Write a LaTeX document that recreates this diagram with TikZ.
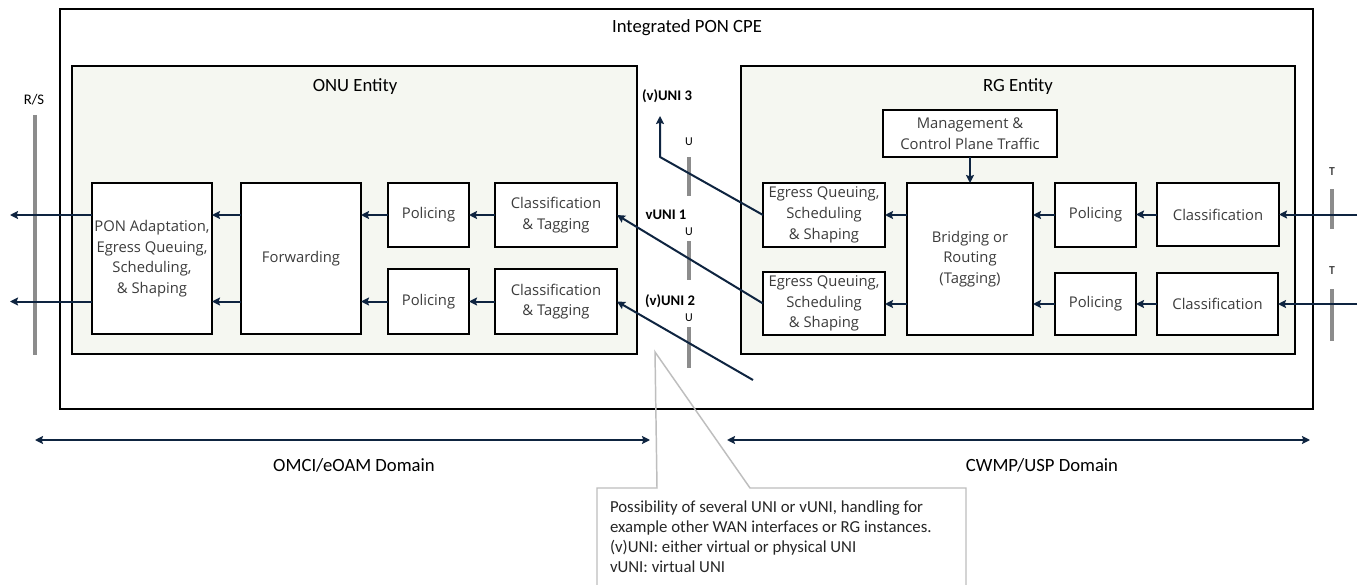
\documentclass[tikz,border=0pt]{standalone}
\usepackage{fontspec}
\setmainfont{Carlito}
\newfontfamily\boxfont{Open Sans}
\usetikzlibrary{arrows.meta}
\definecolor{navy}{RGB}{14,36,64}
\definecolor{barGray}{RGB}{140,140,140}
\definecolor{entityFill}{RGB}{245,247,241}
\definecolor{calloutGray}{RGB}{190,190,190}
\definecolor{boxText}{RGB}{60,60,60}
\begin{document}
\begin{tikzpicture}[x=0.75pt,y=-0.75pt,
  every node/.style={inner sep=0pt, outer sep=0pt},
  blk/.style 2 args={draw=black, line width=1pt, fill=white, anchor=north west,
    minimum width=#1*0.75pt, minimum height=#2*0.75pt, align=center,
    font=\boxfont\fontsize{11.1pt}{15.5pt}\selectfont, text=boxText},
  entity/.style={draw=black, line width=1pt, fill=entityFill},
  frame/.style={draw=black, line width=1.1pt},
  flow/.style={draw=navy, line width=1.5pt, line join=round,
    -{Stealth[length=6pt,width=6pt,inset=1pt]}},
  span/.style={draw=navy, line width=1.5pt,
    {Stealth[length=6pt,width=6pt,inset=1pt]}-{Stealth[length=6pt,width=6pt,inset=1pt]}},
  refbar/.style={draw=barGray, line width=3.5pt},
  ubar/.style={draw=barGray, line width=3pt},
  hdr/.style={anchor=base, font=\fontsize{14pt}{16pt}\selectfont},
  unilbl/.style={anchor=base, font=\bfseries\fontsize{11pt}{13pt}\selectfont},
  reflbl/.style={anchor=base, font=\fontsize{9pt}{11pt}\selectfont},
  callout/.style={draw=calloutGray, line width=1.1pt, line join=miter}
]
\useasboundingbox (0,0) rectangle (1364,585);
\fill[white] (0,0) rectangle (1364,585);

% device frame and the two entities
\draw[frame] (60,9) rectangle (1313,409);
\node[hdr] (cpe) at (687,33) {Integrated PON CPE};
\draw[entity] (72,66) rectangle (637,354);
\draw[entity] (741,66) rectangle (1295,354);
\node[hdr] (onu) at (355,92) {ONU Entity};
\node[hdr] (rg) at (1018,92) {RG Entity};

% reference points R/S, U and T
\draw[refbar] (35,115) -- (35,355);
\node[reflbl, font=\fontsize{11pt}{13pt}\selectfont] (rs) at (34,104) {R/S};
\draw[ubar] (689,157) -- (689,196);
\draw[ubar] (689,241) -- (689,280);
\draw[ubar] (689,327) -- (689,368);
\node[reflbl] (u3) at (689,146) {U};
\node[reflbl] (u1) at (689,235) {U};
\node[reflbl] (u2) at (689,321) {U};
\draw[ubar] (1332,189) -- (1332,229);
\draw[ubar] (1332,289) -- (1332,341);
\node[reflbl] (ta) at (1332,175) {T};
\node[reflbl] (tb) at (1332,274) {T};

% ONU blocks
\node[blk={120}{151}] (pon) at (92,183) {PON Adaptation,\\Egress Queuing,\\Scheduling,\\\& Shaping};
\node[blk={120}{151}] (fwd) at (241,183) {Forwarding};
\node[blk={81}{64}] (polA) at (388,183) {Policing};
\node[blk={81}{65}] (polB) at (388,269) {Policing};
\node[blk={122}{64}] (ctA) at (495,183) {Classification\\\& Tagging};
\node[blk={122}{65}] (ctB) at (495,269) {Classification\\\& Tagging};

% RG blocks
\node[blk={174}{47}] (mgmt) at (883,110) {Management \&\\Control Plane Traffic};
\node[blk={122}{64}] (egA) at (763,183) {Egress Queuing,\\Scheduling\\\& Shaping};
\node[blk={122}{63}] (egB) at (763,272) {Egress Queuing,\\Scheduling\\\& Shaping};
\node[blk={126}{152}] (brg) at (907,183) {Bridging or\\Routing\\(Tagging)};
\node[blk={81}{64}] (rpolA) at (1055,183) {Policing};
\node[blk={81}{62}] (rpolB) at (1055,273) {Policing};
\node[blk={122}{63}] (clsA) at (1157,183) {Classification};
\node[blk={121}{62}] (clsB) at (1157,273) {Classification};

% free ends of the traffic paths
\coordinate (outA) at (10,215);
\coordinate (outB) at (10,301.5);
\coordinate (inA) at (1357,214.5);
\coordinate (inB) at (1357,304);
\coordinate (bend3) at (660,157);
\coordinate (uni3) at (660,116);
\coordinate (lan2) at (753,380);

% ONU upstream paths
\draw[flow] (ctA.west) -- (polA.east);
\draw[flow] (polA.west) -- (polA.west -| fwd.east);
\draw[flow] (polA.west -| fwd.west) -- (polA.west -| pon.east);
\draw[flow] (polA.west -| pon.west) -- (outA);
\draw[flow] (ctB.west) -- (polB.east);
\draw[flow] (polB.west) -- (polB.west -| fwd.east);
\draw[flow] (polB.west -| fwd.west) -- (polB.west -| pon.east);
\draw[flow] (polB.west -| pon.west) -- (outB);

% RG upstream paths
\draw[flow] (inA) -- (clsA.east);
\draw[flow] (clsA.west) -- (clsA.west -| rpolA.east);
\draw[flow] (rpolA.west) -- (rpolA.west -| brg.east);
\draw[flow] (rpolA.west -| brg.west) -- (rpolA.west -| egA.east);
\draw[flow] (inB) -- (clsB.east);
\draw[flow] (clsB.west) -- (rpolB.east);
\draw[flow] (rpolB.west) -- (rpolB.west -| brg.east);
\draw[flow] (rpolB.west -| brg.west) -- (rpolB.west -| egB.east);
\draw[flow] (mgmt.south) -- (brg.north);

% links between RG and ONU through the (v)UNIs
\draw[flow] (egA.west) -- (bend3) -- (uni3);
\draw[flow] (egB.west) -- (ctA.east);
\draw[flow] (lan2) -- (ctB.east);
\node[unilbl] (uniThree) at (667,101) {(v)UNI 3};
\node[unilbl] (uniOne) at (666,219) {vUNI 1};
\node[unilbl] (uniTwo) at (670,305) {(v)UNI 2};

% management domains
\coordinate (omciL) at (35,440);
\coordinate (omciR) at (650,440);
\coordinate (cwmpL) at (727,440);
\coordinate (cwmpR) at (1310,440);
\draw[span] (omciL) -- (omciR);
\draw[span] (cwmpL) -- (cwmpR);
\node[hdr] (omci) at (354,471) {OMCI/eOAM Domain};
\node[hdr] (cwmp) at (1042,471) {CWMP/USP Domain};

% note callout
\coordinate (tip) at (655,352);
\draw[callout] (597,586) -- (597,488) -- (657,488) -- (tip) -- (750,488) -- (966,488) -- (966,586);
\node[anchor=north west, align=left, text=black!85,
  font=\fontsize{12.6pt}{15pt}\selectfont] (note) at (610,501)
  {Possibility of several UNI or vUNI, handling for\\
   example other WAN interfaces or RG instances.\\
   (v)UNI: either virtual or physical UNI\\
   vUNI: virtual UNI};
\end{tikzpicture}
\end{document}
